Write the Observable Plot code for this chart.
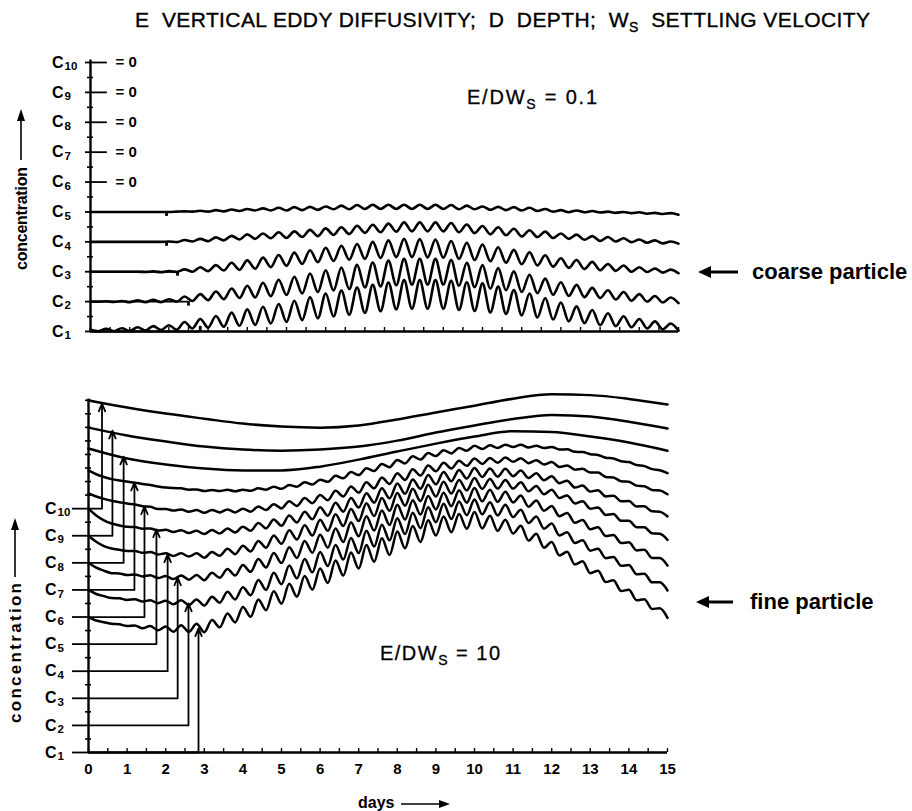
<!DOCTYPE html>
<html><head><meta charset="utf-8">
<script src="https://cdn.jsdelivr.net/npm/d3@7"></script>
<script src="https://cdn.jsdelivr.net/npm/@observablehq/plot@0.6"></script>
<style>
body{margin:0;background:#fff;}
#wrap{position:relative;width:912px;height:811px;background:#fff;overflow:hidden;font-family:"Liberation Sans",Arial,sans-serif;}
#wrap svg{position:absolute;left:0;}
</style></head><body><div id="wrap">
<svg id="ann" width="912" height="811" style="top:0;z-index:2" font-family="Liberation Sans, Arial, sans-serif" fill="#000">
 <text x="135" y="27" font-size="21" stroke="#000" stroke-width="0.35" style="white-space:pre" textLength="735" lengthAdjust="spacing">E  VERTICAL EDDY DIFFUSIVITY;  D  DEPTH;  W<tspan font-size="14" dy="5">S</tspan><tspan dy="-5">  SETTLING VELOCITY</tspan></text>
 <text x="467" y="104" font-size="20" stroke="#000" stroke-width="0.3" textLength="130" lengthAdjust="spacing" style="white-space:pre">E/DW<tspan font-size="14" dy="5">S</tspan><tspan dy="-5"> = 0.1</tspan></text>
 <text x="380" y="660" font-size="20" stroke="#000" stroke-width="0.3" textLength="120" lengthAdjust="spacing" style="white-space:pre">E/DW<tspan font-size="14" dy="5">S</tspan><tspan dy="-5"> = 10</tspan></text>
 <line x1="706" y1="272" x2="738" y2="272" stroke="#000" stroke-width="3"/>
 <polygon points="698,272 711,266 711,278"/>
 <text x="752" y="279" font-size="22" font-weight="bold">coarse particle</text>
 <line x1="704" y1="602" x2="733" y2="602" stroke="#000" stroke-width="3"/>
 <polygon points="696,602 709,596 709,608"/>
 <text x="750" y="609" font-size="22" font-weight="bold">fine particle</text>
 <text x="358" y="808" font-size="16" font-weight="bold">days</text>
 <line x1="401" y1="804" x2="442" y2="804" stroke="#000" stroke-width="1.6"/>
 <polygon points="450,804 439,800 439,808"/>
 <text transform="translate(27,270) rotate(-90)" font-size="16" font-weight="bold" textLength="103" lengthAdjust="spacing">concentration</text>
 <line x1="21" y1="160" x2="21" y2="118" stroke="#000" stroke-width="1.6"/>
 <polygon points="21,109 17,121 25,121"/>
 <text transform="translate(21,723) rotate(-90)" font-size="17" font-weight="bold" textLength="140" lengthAdjust="spacing">concentration</text>
 <line x1="15" y1="577" x2="15" y2="528" stroke="#000" stroke-width="1.6"/>
 <polygon points="15,518 11,530 19,530"/>
</svg>
</div>
<script>
// ---------- shared ----------
const tideHalfPeriod = 0.2;            // days between successive crest and trough
const dayTicks = [0,1,2,3,4,5,6,7,8,9,10,11,12,13,14,15];
const halfDayTicks = [0,0.5,1,1.5,2,2.5,3,3.5,4,4.5,5,5.5,6,6.5,7,7.5,8,8.5,9,9.5,10,10.5,11,11.5,12,12.5,13,13.5,14,14.5,15];

// ---------- top panel: coarse particle, E/DWs = 0.1 ----------
const coarseLevels = [1,2,3,4,5,6,7,8,9,10];
const coarseMinorTicks = [1.5,2.5,3.5,4.5,5.5,6.5,7.5,8.5,9.5];
const coarseZeroLevels = [6,7,8,9,10];
const coarseBracketLevel = [1,2,3,4,5];
const coarseBracketDay = [2.8,2.5,2.22,1.94,1.94];

const coarseC1 = [1.06,1.01,1.09,1.01,1.11, 1.02,1.14,1.03,1.18,1.05, 1.21,1.06,1.32,1.10,1.42, 1.13,1.52,1.16,1.63,1.19, 1.74,1.22,1.83,1.27,1.92, 1.32,2.03,1.38,2.15,1.44, 2.27,1.50,2.37,1.56,2.47, 1.62,2.56,1.68,2.64,1.74, 2.72,1.76,2.72,1.76,2.72, 1.76,2.70,1.72,2.65,1.69, 2.61,1.64,2.50,1.59,2.39, 1.54,2.27,1.47,2.12,1.40, 1.97,1.34,1.84,1.28,1.72, 1.21,1.61,1.18,1.51,1.14, 1.42,1.10,1.34,1.07,1.27, 1.03];
const coarseC2 = [2.00,2.00,2.01,1.99,2.02, 1.98,2.04,1.98,2.06,1.98, 2.08,2.00,2.17,2.02,2.25, 2.05,2.34,2.08,2.44,2.12, 2.53,2.14,2.63,2.18,2.73, 2.22,2.83,2.27,2.94,2.32, 3.05,2.37,3.14,2.42,3.23, 2.47,3.31,2.51,3.37,2.55, 3.43,2.57,3.43,2.57,3.43, 2.57,3.39,2.53,3.30,2.48, 3.22,2.43,3.12,2.38,3.01, 2.32,2.90,2.28,2.77,2.23, 2.65,2.19,2.56,2.15,2.46, 2.12,2.38,2.07,2.32,2.03, 2.25,2.00,2.19,1.97,2.14, 1.95];
const coarseC3 = [3.00,3.00,3.00,3.00,3.00, 3.00,3.00,2.99,3.01,2.98, 3.02,2.99,3.08,3.00,3.15, 3.02,3.22,3.04,3.30,3.06, 3.38,3.10,3.47,3.15,3.56, 3.20,3.64,3.26,3.72,3.32, 3.80,3.36,3.87,3.40,3.93, 3.43,4.00,3.46,4.05,3.49, 4.10,3.49,4.09,3.48,4.08, 3.47,4.03,3.43,3.97,3.39, 3.91,3.35,3.82,3.30,3.73, 3.25,3.65,3.21,3.55,3.17, 3.45,3.13,3.39,3.09,3.33, 3.05,3.26,3.03,3.21,3.00, 3.15,2.99,3.11,2.97,3.07, 2.95];
const coarseC4 = [4.00,4.00,4.00,4.00,4.00, 4.00,4.00,4.00,4.00,4.00, 4.01,3.99,4.06,4.01,4.10, 4.02,4.15,4.05,4.20,4.08, 4.25,4.10,4.28,4.12,4.32, 4.13,4.35,4.16,4.40,4.19, 4.45,4.23,4.49,4.26,4.54, 4.30,4.57,4.32,4.61,4.34, 4.65,4.35,4.65,4.35,4.65, 4.35,4.63,4.32,4.58,4.29, 4.53,4.25,4.49,4.22,4.44, 4.18,4.39,4.16,4.34,4.13, 4.28,4.10,4.24,4.07,4.19, 4.03,4.16,4.01,4.12,3.99, 4.08,3.97,4.05,3.95,4.01, 3.94];
const coarseC5 = [5.00,5.00,5.00,5.00,5.00, 5.00,5.00,5.00,5.00,5.00, 5.00,5.01,5.02,5.01,5.04, 5.01,5.06,5.02,5.08,5.03, 5.10,5.05,5.12,5.05,5.14, 5.05,5.16,5.06,5.17,5.07, 5.18,5.09,5.21,5.09,5.23, 5.10,5.24,5.10,5.24,5.10, 5.24,5.10,5.24,5.10,5.24, 5.10,5.23,5.09,5.21,5.09, 5.18,5.07,5.17,5.06,5.16, 5.05,5.14,5.03,5.10,5.01, 5.06,4.99,5.05,4.99,5.03, 4.98,5.01,4.97,5.00,4.96, 4.99,4.94,4.97,4.93,4.96, 4.91];

// ---------- bottom panel: fine particle, E/DWs = 10 ----------
const fineLevels = [1,2,3,4,5,6,7,8,9,10];
const fineMinorTicks = [1.5,2.5,3.5,4.5,5.5,6.5,7.5,8.5,9.5,10.5,11,11.5,12,12.5,13,13.5,14];
const fineBracketLevel = [1,2,3,4,5,6,7,8,9,10];
const fineBracketDay = [2.85,2.59,2.31,2.05,1.76,1.45,1.19,0.91,0.62,0.35];
const fineBracketTip = [5.58,6.50,7.46,8.31,9.23,10.08,10.96,11.92,12.88,13.88];

const fineC1 = [6.00,5.87,5.81,5.75,5.73, 5.67,5.69,5.59,5.67,5.51, 5.65,5.46,5.70,5.45,5.75, 5.44,5.89,5.62,6.13,5.80, 6.37,6.01,6.65,6.25,6.95, 6.49,7.23,6.75,7.51,7.01, 7.79,7.26,8.09,7.53,8.38, 7.79,8.66,8.04,8.91,8.29, 9.16,8.54,9.36,8.77,9.57, 9.01,9.71,9.13,9.80,9.26, 9.88,9.27,9.74,9.18,9.59, 9.08,9.37,8.82,9.07,8.56, 8.77,8.27,8.41,7.94,8.06, 7.62,7.71,7.29,7.36,6.96, 7.01,6.62,6.66,6.30,6.32, 5.97];
const fineC2 = [7.00,6.85,6.77,6.70,6.69, 6.63,6.66,6.57,6.62,6.51, 6.60,6.47,6.62,6.44,6.65, 6.42,6.75,6.53,6.93,6.65, 7.10,6.80,7.37,7.00,7.63, 7.21,7.90,7.43,8.14,7.65, 8.40,7.88,8.66,8.12,8.92, 8.36,9.18,8.60,9.41,8.83, 9.65,9.06,9.85,9.28,10.05, 9.50,10.18,9.62,10.26,9.76, 10.34,9.79,10.24,9.75,10.14, 9.69,9.96,9.47,9.71,9.26, 9.45,9.01,9.13,8.73,8.83, 8.45,8.52,8.17,8.22,7.89, 7.92,7.58,7.60,7.28,7.28, 6.98];
const fineC3 = [8.00,7.82,7.71,7.62,7.61, 7.55,7.57,7.50,7.54,7.44, 7.51,7.40,7.53,7.38,7.55, 7.36,7.63,7.45,7.77,7.53, 7.92,7.67,8.14,7.83,8.36, 7.99,8.58,8.18,8.81,8.37, 9.04,8.56,9.27,8.77,9.50, 8.98,9.72,9.19,9.93,9.40, 10.14,9.60,10.31,9.78,10.47, 9.97,10.59,10.09,10.68,10.22, 10.76,10.27,10.70,10.25,10.62, 10.23,10.49,10.07,10.30,9.92, 10.10,9.72,9.84,9.48,9.58, 9.24,9.31,8.99,9.03,8.73, 8.76,8.46,8.48,8.18,8.18, 7.90];
const fineC4 = [9.00,8.78,8.62,8.53,8.48, 8.44,8.44,8.37,8.40,8.31, 8.35,8.25,8.35,8.23,8.35, 8.19,8.40,8.26,8.52,8.32, 8.63,8.42,8.81,8.56,9.01, 8.70,9.20,8.86,9.39,9.01, 9.59,9.18,9.79,9.36,9.99, 9.54,10.20,9.73,10.39,9.92, 10.58,10.11,10.73,10.28,10.88, 10.45,10.99,10.56,11.06,10.67, 11.13,10.73,11.09,10.74,11.06, 10.74,10.97,10.64,10.84,10.53, 10.70,10.39,10.49,10.19,10.27, 10.00,10.04,9.77,9.80,9.55, 9.55,9.31,9.31,9.09,9.07, 8.85];
const fineC5 = [10.00,9.75,9.57,9.45,9.38, 9.33,9.32,9.26,9.27,9.19, 9.22,9.14,9.20,9.10,9.18, 9.06,9.21,9.08,9.27,9.12, 9.33,9.18,9.47,9.27,9.60, 9.37,9.75,9.49,9.89,9.61, 10.05,9.74,10.22,9.89,10.39, 10.04,10.57,10.22,10.75,10.38, 10.93,10.55,11.08,10.73,11.24, 10.90,11.35,11.01,11.43,11.11, 11.50,11.17,11.48,11.18,11.47, 11.20,11.41,11.13,11.31,11.05, 11.20,10.94,11.03,10.78,10.85, 10.63,10.68,10.45,10.48,10.27, 10.28,10.08,10.09,9.90,9.89, 9.71];
const fineC6 = [10.56,10.45,10.36,10.29,10.24, 10.19,10.15,10.09,10.07,9.99, 9.99,9.93,9.97,9.89,9.95, 9.85,9.95,9.86,9.97,9.86, 10.00,9.89,10.08,9.95,10.16, 10.01,10.27,10.10,10.39,10.20, 10.50,10.31,10.66,10.45,10.82, 10.59,10.97,10.75,11.15,10.91, 11.31,11.06,11.45,11.22,11.59, 11.38,11.69,11.48,11.77,11.58, 11.85,11.65,11.87,11.69,11.89, 11.73,11.86,11.68,11.79,11.63, 11.72,11.54,11.59,11.44,11.47, 11.33,11.33,11.17,11.15,11.01, 10.99,10.85,10.83,10.69,10.67, 10.53];
const fineC7 = [11.41,11.27,11.17,11.09,11.04, 11.00,10.96,10.91,10.87,10.82, 10.78,10.76,10.75,10.70,10.71, 10.65,10.69,10.65,10.70,10.64, 10.70,10.66,10.75,10.70,10.81, 10.73,10.87,10.81,10.97,10.89, 11.07,10.99,11.21,11.12,11.35, 11.24,11.49,11.39,11.65,11.53, 11.80,11.67,11.93,11.81,12.05, 11.94,12.16,12.04,12.24,12.14, 12.32,12.20,12.34,12.24,12.36, 12.28,12.36,12.26,12.32,12.24, 12.28,12.18,12.19,12.10,12.09, 12.01,11.98,11.88,11.85,11.75, 11.72,11.61,11.57,11.46,11.42, 11.31];
// smooth curves, read once per day
const fineC8 = [12.22,11.85,11.63,11.48,11.41,11.41,11.55,11.81,12.11,12.40,12.66,12.86,12.83,12.66,12.44,12.14];
const fineC9 = [12.99,12.70,12.48,12.29,12.18,12.14,12.18,12.29,12.51,12.81,13.07,13.31,13.46,13.40,13.21,12.96];
const fineC10 = [13.99,13.73,13.51,13.32,13.14,13.03,12.99,13.07,13.29,13.55,13.80,14.06,14.22,14.19,14.05,13.84];

// ---------- build tables ----------
const waveRows = (name, vals) => vals.map((v, i) => ({name, t: i * tideHalfPeriod, v}));
const dayRows = (name, vals) => vals.map((v, i) => ({name, t: dayTicks[i], v}));

const coarseRows = [
  ...waveRows("C1", coarseC1), ...waveRows("C2", coarseC2), ...waveRows("C3", coarseC3),
  ...waveRows("C4", coarseC4), ...waveRows("C5", coarseC5)
];
const fineRows = [
  ...waveRows("C1", fineC1), ...waveRows("C2", fineC2), ...waveRows("C3", fineC3),
  ...waveRows("C4", fineC4), ...waveRows("C5", fineC5), ...waveRows("C6", fineC6),
  ...waveRows("C7", fineC7), ...dayRows("C8", fineC8), ...dayRows("C9", fineC9), ...dayRows("C10", fineC10)
];
const coarseBrackets = coarseBracketLevel.map((c, i) => ({c, d: coarseBracketDay[i]}));
const fineBrackets = fineBracketLevel.map((c, i) => ({c, d: fineBracketDay[i], tip: fineBracketTip[i]}));

const FONT = "Liberation Sans, Arial, sans-serif";
const INK = "#000";

// ---------- top plot ----------
const topPlot = Plot.plot({
  width: 912, height: 310,
  marginTop: 22, marginBottom: 19, marginLeft: 90, marginRight: 234,
  x: {domain: [0, 15]},
  y: {domain: [1, 10]},
  style: {fontFamily: FONT, background: "transparent", overflow: "visible", color: INK},
  marks: [
    Plot.axisY({ticks: coarseMinorTicks, tickSize: 6, dx: 3, tickFormat: () => "", label: null, strokeWidth: 1.6}),
    Plot.axisY({ticks: coarseLevels, tickSize: 5, tickFormat: () => "", label: null, strokeWidth: 1.8}),
    Plot.axisX({ticks: halfDayTicks, tickSize: 4, dy: -4, tickFormat: () => "", label: null, strokeWidth: 1.4}),
    Plot.ruleY([1], {strokeWidth: 2.4}),
    Plot.ruleX([0], {y1: 1, y2: 10.08, strokeWidth: 2.4}),
    Plot.ruleY(coarseZeroLevels, {y: d => d, x1: 0, x2: 0.43, strokeWidth: 1.8}),
    Plot.text(coarseZeroLevels, {x: 0, y: d => d, text: () => "= 0", dx: 25, textAnchor: "start", fontSize: 15, fontWeight: "bold"}),
    Plot.ruleY(coarseBrackets, {y: "c", x1: 0, x2: "d", strokeWidth: 1.9}),
    Plot.ruleX(coarseBrackets, {x: "d", y1: "c", y2: d => d.c + (d.c === 1 ? 0.17 : -0.15), strokeWidth: 2.8}),
    Plot.line(coarseRows, {x: "t", y: "v", z: "name", curve: "monotone-x", strokeWidth: 2.6, stroke: INK}),
    Plot.text(coarseLevels, {x: 0, y: d => d, text: () => "C", dx: -27, textAnchor: "end", fontSize: 16, fontWeight: "bold"}),
    Plot.text(coarseLevels, {x: 0, y: d => d, text: d => String(d), dx: -26, dy: 4, textAnchor: "start", fontSize: 11.5, fontWeight: "bold"})
  ]
});
topPlot.style.top = "40px";

// ---------- bottom plot ----------
const bottomPlot = Plot.plot({
  width: 912, height: 431,
  marginTop: 13, marginBottom: 59, marginLeft: 88, marginRight: 245,
  x: {domain: [0, 15]},
  y: {domain: [1, 14.25]},
  style: {fontFamily: FONT, background: "transparent", overflow: "visible", color: INK},
  marks: [
    Plot.axisY({ticks: fineMinorTicks, tickSize: 6, dx: 3, tickFormat: () => "", label: null, strokeWidth: 1.6}),
    Plot.axisY({ticks: fineLevels, tickSize: 16, tickFormat: () => "", label: null, strokeWidth: 1.8}),
    Plot.axisX({ticks: halfDayTicks, tickSize: 4, dy: -4, tickFormat: () => "", label: null, strokeWidth: 1.4}),
    Plot.axisX({ticks: dayTicks, tickSize: 0, tickPadding: 11, tickFormat: d => String(d), label: null, fontSize: 15, fontWeight: "bold"}),
    Plot.ruleY([1], {strokeWidth: 2.4}),
    Plot.ruleX([0], {y1: 1, y2: 14.05, strokeWidth: 2.4}),
    Plot.ruleY(fineBrackets, {y: "c", x1: 0, x2: "d", strokeWidth: 1.8}),
    Plot.arrow(fineBrackets, {x1: "d", y1: "c", x2: "d", y2: "tip", strokeWidth: 1.8, headLength: 7, headAngle: 45}),
    Plot.line(fineRows, {x: "t", y: "v", z: "name", curve: "monotone-x", strokeWidth: 2.5, stroke: INK}),
    Plot.text(fineLevels, {x: 0, y: d => d, text: () => "C", dx: -32, textAnchor: "end", fontSize: 16, fontWeight: "bold"}),
    Plot.text(fineLevels, {x: 0, y: d => d, text: d => String(d), dx: -31, dy: 4, textAnchor: "start", fontSize: 11.5, fontWeight: "bold"})
  ]
});
bottomPlot.style.top = "380px";

const wrap = document.getElementById("wrap");
wrap.insertBefore(bottomPlot, wrap.firstChild);
wrap.insertBefore(topPlot, wrap.firstChild);
</script>
</body></html>
